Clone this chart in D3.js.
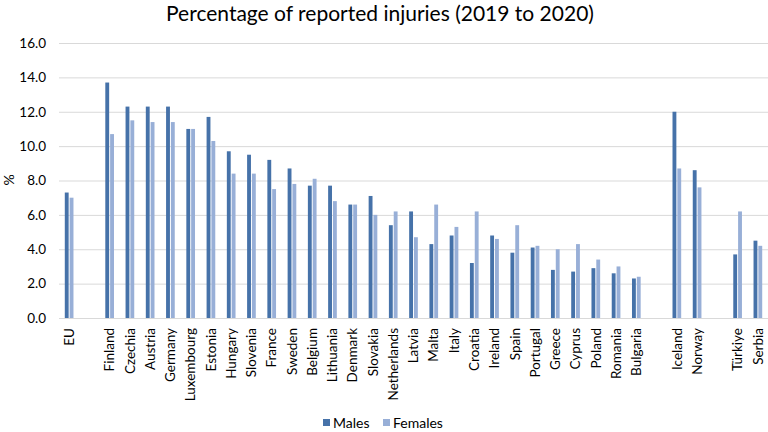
<!DOCTYPE html>
<html><head><meta charset="utf-8">
<script src="https://cdn.jsdelivr.net/npm/d3@7/dist/d3.min.js"></script>
<style>body{margin:0;background:#fff;} text{font-family:Lato, "Open Sans", sans-serif;}</style>
</head><body><svg id="c" width="768" height="432"></svg>
<script>
const categories = ["EU","_g1","Finland","Czechia","Austria","Germany","Luxembourg","Estonia","Hungary","Slovenia","France","Sweden","Belgium","Lithuania","Denmark","Slovakia","Netherlands","Latvia","Malta","Italy","Croatia","Ireland","Spain","Portugal","Greece","Cyprus","Poland","Romania","Bulgaria","_g2","Iceland","Norway","_g3","Türkiye","Serbia"];
const males   = [7.3,null,13.7,12.3,12.3,12.3,11.0,11.7,9.7,9.5,9.2,8.7,7.7,7.7,6.6,7.1,5.4,6.2,4.3,4.8,3.2,4.8,3.8,4.1,2.8,2.7,2.9,2.6,2.3,null,12.0,8.6,null,3.7,4.5];
const females = [7.0,null,10.7,11.5,11.4,11.4,11.0,10.3,8.4,8.4,7.5,7.8,8.1,6.8,6.6,6.0,6.2,4.7,6.6,5.3,6.2,4.6,5.4,4.2,4.0,4.3,3.4,3.0,2.4,null,8.7,7.6,null,6.2,4.2];
const seriesNames = ["Males","Females"];
const colors = ["#4672a9","#98afd7"];
const yTicks = [0,2,4,6,8,10,12,14,16];

const svg = d3.select("#c");
const m = {l:59, r:768, t:43, b:318};
const x = d3.scaleBand().domain(categories).range([m.l, m.r]).paddingInner(0);
const y = d3.scaleLinear().domain([0,16]).range([m.b, m.t]);
const xs = d3.scaleBand().domain(seriesNames).range([0, x.bandwidth()]).paddingInner(0.2).paddingOuter(1.2);

svg.append("text").attr("x",380).attr("y",21).attr("text-anchor","middle")
  .attr("font-size",21).attr("fill","#000").text("Percentage of reported injuries (2019 to 2020)");

const ya = svg.append("g").attr("transform",`translate(${m.l},0)`)
  .call(d3.axisLeft(y).tickValues(yTicks).tickFormat(d3.format(".1f")).tickSize(-(m.r-m.l)).tickPadding(13));
ya.select(".domain").remove();
ya.selectAll(".tick line").attr("stroke","#d9d9d9").attr("stroke-width",1);
ya.selectAll(".tick text").attr("font-size",13.5).attr("fill","#000").style("font-family","Lato, sans-serif");

svg.append("text").attr("transform","translate(14,180) rotate(-90)").attr("text-anchor","middle")
  .attr("font-size",14).text("%");

const data = [males, females];
data.forEach((vals, si) => {
  svg.append("g").selectAll("rect").data(categories.map((c,i)=>({c,v:vals[i]})).filter(d=>d.v!=null))
    .join("rect")
    .attr("x", d => x(d.c) + xs(seriesNames[si]))
    .attr("width", xs.bandwidth())
    .attr("y", d => y(d.v))
    .attr("height", d => y(0) - y(d.v))
    .attr("fill", colors[si]);
});

const xa = svg.append("g").attr("transform",`translate(0,${m.b})`)
  .call(d3.axisBottom(x).tickSize(0).tickFormat(d => d.startsWith("_") ? "" : d));
xa.select(".domain").remove();
xa.selectAll(".tick text").attr("font-size",13.5).attr("fill","#000").style("font-family","Lato, sans-serif")
  .attr("text-anchor","end").attr("transform","rotate(-90)").attr("dx","-10").attr("dy","0.35em").attr("x",0).attr("y",0);

const lg = svg.append("g");
const items = [{n:"Males",x:323},{n:"Females",x:383}];
items.forEach((it,i)=>{
  lg.append("rect").attr("x",it.x).attr("y",419).attr("width",7).attr("height",7).attr("fill",colors[i]);
  lg.append("text").attr("x",it.x+10).attr("y",428).attr("font-size",14).text(it.n);
});
</script></body></html>
